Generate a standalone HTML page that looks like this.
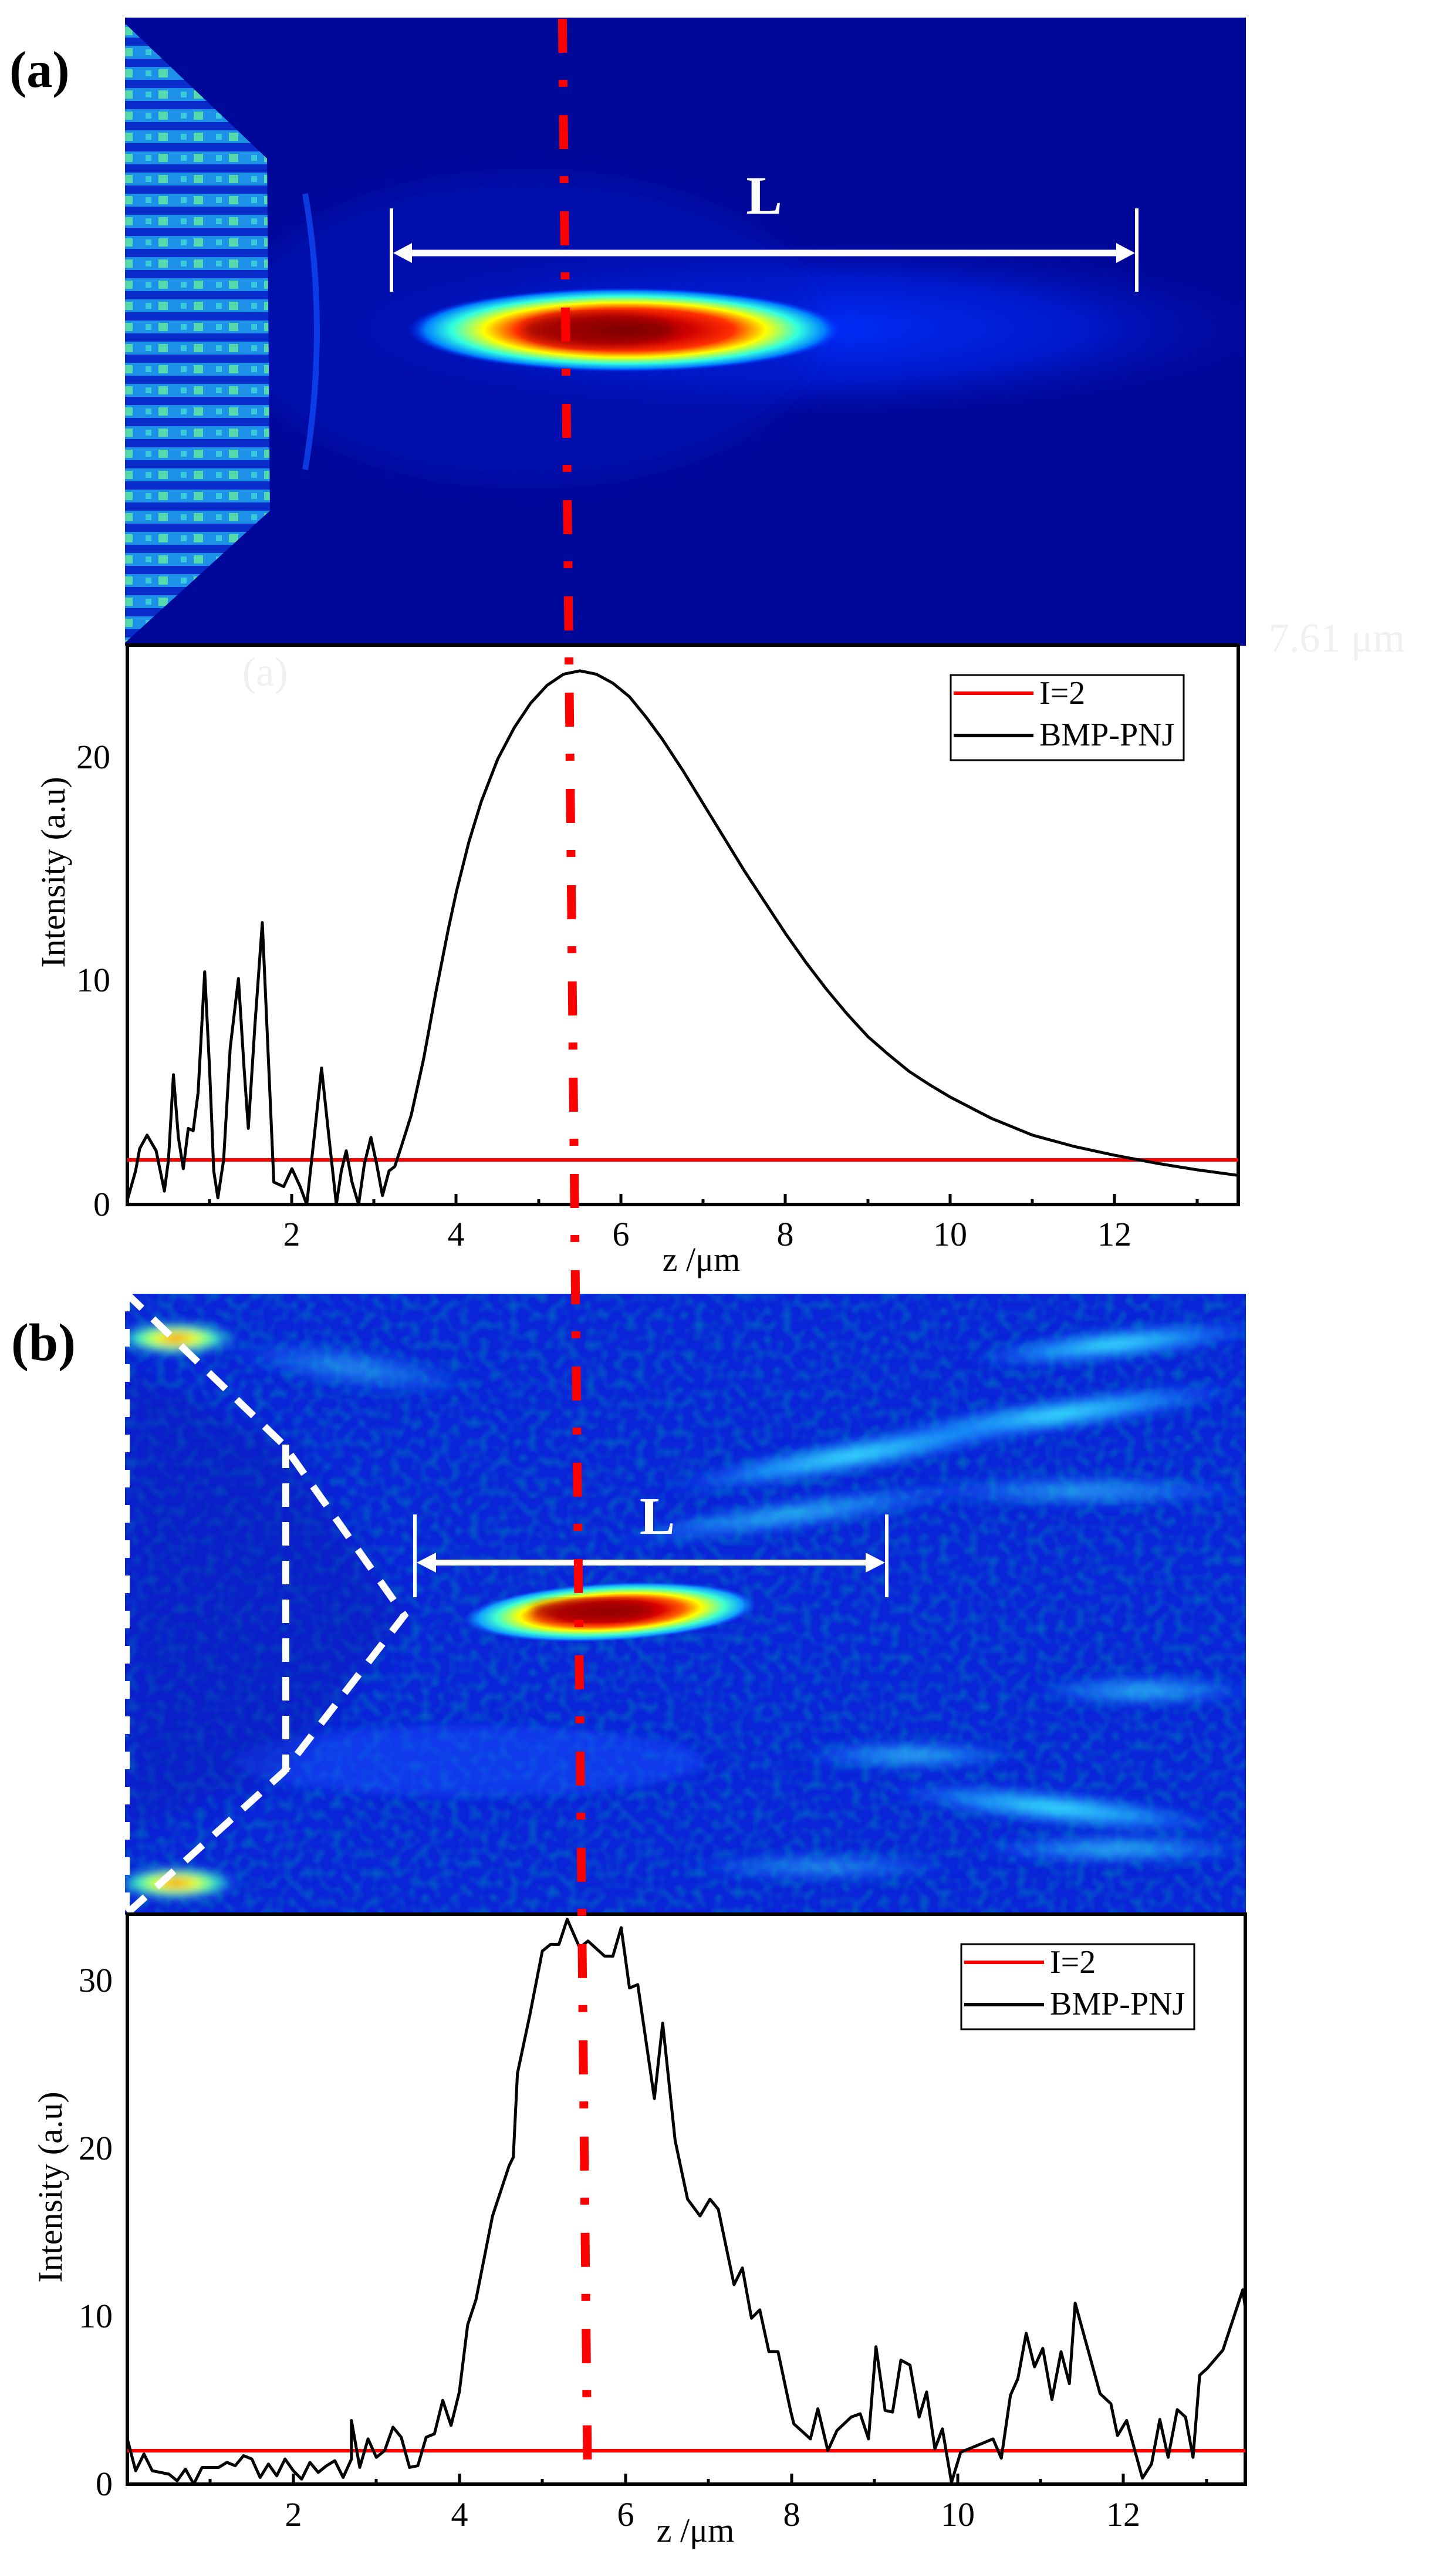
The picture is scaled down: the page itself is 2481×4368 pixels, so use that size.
<!DOCTYPE html>
<html><head><meta charset="utf-8"><style>html,body{margin:0;padding:0;background:#fff}svg{display:block}</style></head>
<body>
<svg xmlns="http://www.w3.org/2000/svg" width="2481" height="4368" viewBox="0 0 2481 4368" font-family="'Liberation Serif', serif">
<defs>
<clipPath id="clipA"><rect x="213" y="30" width="1910" height="1070"/></clipPath>
<clipPath id="clipB"><rect x="213" y="2204" width="1910" height="1058"/></clipPath>
<radialGradient id="hotA">
<stop offset="0" stop-color="#7a0000"/><stop offset="0.3" stop-color="#d00000"/><stop offset="0.5" stop-color="#ff3000"/><stop offset="0.65" stop-color="#ffff00"/><stop offset="0.8" stop-color="#30ffe0"/><stop offset="0.92" stop-color="#0080ff"/><stop offset="1" stop-color="#0020ff" stop-opacity="0"/>
</radialGradient>
<radialGradient id="tail"><stop offset="0" stop-color="#0030ff"/><stop offset="0.6" stop-color="#0020e0" stop-opacity="0.7"/><stop offset="1" stop-color="#0010b0" stop-opacity="0"/></radialGradient>
<radialGradient id="hotB">
<stop offset="0" stop-color="#a00000"/><stop offset="0.35" stop-color="#e00000"/><stop offset="0.5" stop-color="#ff6000"/><stop offset="0.62" stop-color="#ffff00"/><stop offset="0.78" stop-color="#40ffd0"/><stop offset="0.9" stop-color="#10a0ff"/><stop offset="1" stop-color="#1040ff" stop-opacity="0"/>
</radialGradient>
<radialGradient id="streak"><stop offset="0" stop-color="#40f0ff"/><stop offset="0.5" stop-color="#20b0ff" stop-opacity="0.7"/><stop offset="1" stop-color="#1050ff" stop-opacity="0"/></radialGradient>
<radialGradient id="spot"><stop offset="0" stop-color="#ff4000"/><stop offset="0.3" stop-color="#ffff00"/><stop offset="0.6" stop-color="#40ffc0"/><stop offset="1" stop-color="#1060ff" stop-opacity="0"/></radialGradient>
<pattern id="cone" width="60" height="36" patternUnits="userSpaceOnUse">
<rect width="60" height="36" fill="#0a30d0"/>
<rect x="0" y="6" width="60" height="22" fill="#20a0f0"/>
<rect x="30" y="10" width="16" height="14" fill="#60f0b0"/>
<rect x="8" y="12" width="10" height="10" fill="#40e0e0"/>
</pattern>
<filter id="noise" x="0" y="0" width="100%" height="100%">
<feTurbulence type="fractalNoise" baseFrequency="0.06" numOctaves="1" seed="3"/>
<feColorMatrix type="matrix" values="0 0 0 0 0  0 0 0 0 0.15  0 0 0 0 0.55  0 0 0 2.2 -0.9"/>
</filter>
<filter id="blur20"><feGaussianBlur stdDeviation="20"/></filter>
<filter id="blur8"><feGaussianBlur stdDeviation="8"/></filter>
</defs>

<!-- Panel (a) heatmap -->
<g clip-path="url(#clipA)">
<rect x="213" y="30" width="1910" height="1070" fill="#00089a"/>
<ellipse cx="1350" cy="560" rx="820" ry="150" fill="url(#tail)"/>
<ellipse cx="900" cy="560" rx="500" ry="260" fill="#0018c0" opacity="0.5" filter="url(#blur20)"/>
<polygon points="213,40 455,270 460,870 213,1095" fill="url(#cone)" opacity="0.9"/>
<path d="M520,330 Q560,560 520,800" stroke="#1050ff" stroke-width="10" fill="none" opacity="0.7"/>
<ellipse cx="1065" cy="562" rx="370" ry="72" fill="url(#hotA)"/>
<ellipse cx="1020" cy="562" rx="130" ry="28" fill="#800000" opacity="0.6" filter="url(#blur8)"/>
</g>
<!-- arrow a -->
<line x1="667" y1="355" x2="667" y2="497" stroke="#fff" stroke-width="6"/>
<line x1="1937" y1="355" x2="1937" y2="497" stroke="#fff" stroke-width="6"/>
<line x1="690" y1="431" x2="1915" y2="431" stroke="#fff" stroke-width="11"/>
<polygon points="670,431 702,414 702,448" fill="#fff"/>
<polygon points="1934,431 1902,414 1902,448" fill="#fff"/>
<text x="1302" y="364" font-size="92" font-weight="bold" fill="#fff" text-anchor="middle">L</text>
<text x="16" y="148" font-size="88" font-weight="bold" fill="#000">(a)</text>
<text x="2162" y="1110" font-size="70" fill="#f0f0f0">7.61 μm</text>
<text x="413" y="1168" font-size="70" fill="#f0f0f0">(a)</text>

<!-- Plot (a) -->
<rect x="217" y="1099" width="1893" height="953" fill="none" stroke="#000" stroke-width="6"/>
<line x1="217" y1="1976" x2="2110" y2="1976" stroke="#f00" stroke-width="6"/>
<svg x="217" y="1099" width="1893" height="953" viewBox="0 0 13.5 25" preserveAspectRatio="none" overflow="visible">
<polyline vector-effect="non-scaling-stroke" fill="none" stroke="#000" stroke-width="5" stroke-linejoin="round" points="0,24.8 0.1,23.5 0.15,22.5 0.24,21.9 0.35,22.6 0.45,24.4 0.5,23 0.56,19.2 0.62,22 0.68,23.4 0.74,21.6 0.8,21.7 0.86,20 0.94,14.6 1.0,19 1.05,23.5 1.1,24.7 1.17,23 1.25,18 1.35,14.9 1.42,19 1.47,21.6 1.55,17 1.64,12.4 1.72,19 1.78,24 1.9,24.2 2.0,23.4 2.1,24.2 2.18,25 2.27,22 2.36,18.9 2.45,22 2.54,25 2.6,23.5 2.66,22.6 2.73,24 2.81,25 2.88,23.2 2.96,22 3.03,23.2 3.1,24.6 3.18,23.5 3.25,23.3 3.33,22.4 3.45,21 3.6,18.5 3.75,15.5 3.9,12.7 4.0,11 4.15,8.8 4.3,7 4.5,5.1 4.7,3.7 4.9,2.6 5.1,1.8 5.3,1.3 5.5,1.15 5.7,1.3 5.9,1.7 6.1,2.3 6.3,3.2 6.5,4.2 6.75,5.6 7.0,7.1 7.25,8.6 7.5,10.1 7.75,11.5 8.0,12.9 8.25,14.2 8.5,15.4 8.75,16.5 9.0,17.5 9.25,18.3 9.5,19.05 9.75,19.65 10,20.2 10.5,21.15 11,21.9 11.5,22.4 12,22.8 12.5,23.15 13,23.45 13.5,23.7"/>
</svg>
<g stroke="#000" stroke-width="5">
<line x1="497" y1="2052" x2="497" y2="2034"/><line x1="777" y1="2052" x2="777" y2="2034"/><line x1="1058" y1="2052" x2="1058" y2="2034"/><line x1="1338" y1="2052" x2="1338" y2="2034"/><line x1="1619" y1="2052" x2="1619" y2="2034"/><line x1="1899" y1="2052" x2="1899" y2="2034"/>
<line x1="357" y1="2052" x2="357" y2="2043"/><line x1="637" y1="2052" x2="637" y2="2043"/><line x1="918" y1="2052" x2="918" y2="2043"/><line x1="1198" y1="2052" x2="1198" y2="2043"/><line x1="1479" y1="2052" x2="1479" y2="2043"/><line x1="1759" y1="2052" x2="1759" y2="2043"/><line x1="2040" y1="2052" x2="2040" y2="2043"/>
</g>
<g font-size="58" fill="#000" text-anchor="middle">
<text x="497" y="2122">2</text><text x="777" y="2122">4</text><text x="1058" y="2122">6</text><text x="1338" y="2122">8</text><text x="1619" y="2122">10</text><text x="1899" y="2122">12</text>
<text x="1195" y="2165">z /μm</text>
</g>
<g font-size="58" fill="#000" text-anchor="end">
<text x="188" y="1309">20</text><text x="188" y="1689">10</text><text x="188" y="2071">0</text>
</g>
<text transform="translate(110,1486) rotate(-90)" font-size="58" text-anchor="middle">Intensity (a.u)</text>
<rect x="1620" y="1150" width="397" height="145" fill="#fff" stroke="#000" stroke-width="3"/>
<line x1="1625" y1="1181" x2="1761" y2="1181" stroke="#f00" stroke-width="6"/>
<line x1="1625" y1="1253" x2="1761" y2="1253" stroke="#000" stroke-width="6"/>
<text x="1771" y="1199" font-size="56">I=2</text>
<text x="1771" y="1270" font-size="56">BMP-PNJ</text>

<!-- Panel (b) heatmap -->
<g clip-path="url(#clipB)">
<rect x="213" y="2204" width="1910" height="1058" fill="#0a24d8"/>
<rect x="213" y="2204" width="1910" height="1058" filter="url(#noise)" opacity="0.8"/>
<g filter="url(#blur8)">
<ellipse cx="300" cy="2280" rx="110" ry="30" fill="url(#spot)"/>
<ellipse cx="300" cy="3208" rx="110" ry="30" fill="url(#spot)"/>
<ellipse cx="1900" cy="2290" rx="260" ry="30" fill="url(#streak)" transform="rotate(-6 1900 2290)"/>
<ellipse cx="1800" cy="2410" rx="330" ry="32" fill="url(#streak)" transform="rotate(-8 1800 2410)"/>
<ellipse cx="1450" cy="2480" rx="330" ry="32" fill="url(#streak)" transform="rotate(-10 1450 2480)"/>
<ellipse cx="1350" cy="2580" rx="330" ry="30" fill="url(#streak)" transform="rotate(-8 1350 2580)" opacity="0.7"/>
<ellipse cx="1850" cy="2540" rx="300" ry="30" fill="url(#streak)" opacity="0.6"/>
<ellipse cx="1950" cy="2880" rx="200" ry="30" fill="url(#streak)" opacity="0.7"/>
<ellipse cx="1800" cy="3080" rx="300" ry="32" fill="url(#streak)" transform="rotate(6 1800 3080)"/>
<ellipse cx="1550" cy="2990" rx="200" ry="28" fill="url(#streak)" opacity="0.7"/>
<ellipse cx="1900" cy="3150" rx="250" ry="28" fill="url(#streak)" opacity="0.7"/>
<ellipse cx="1400" cy="3180" rx="250" ry="28" fill="url(#streak)" opacity="0.5"/>
<ellipse cx="600" cy="2330" rx="220" ry="40" fill="url(#streak)" opacity="0.5" transform="rotate(8 600 2330)"/>
<ellipse cx="800" cy="3000" rx="400" ry="60" fill="#1850ff" opacity="0.5"/>
</g>
<polygon points="213,2330 483,2461 689,2752 483,3019 213,3120" fill="#0818b0" opacity="0.35" filter="url(#blur20)"/>
<ellipse cx="1040" cy="2746" rx="250" ry="50" fill="url(#hotB)" transform="rotate(-3 1040 2746)"/>
<ellipse cx="1010" cy="2743" rx="105" ry="18" fill="#900000" opacity="0.7" filter="url(#blur8)"/>
</g>
<g stroke="#fff" stroke-width="12" fill="none" stroke-dasharray="40 26">
<polyline points="213,2201 483,2461 689,2752 483,3019 215,3261"/>
<line x1="487" y1="2461" x2="487" y2="3019"/>
</g>
<line x1="217" y1="2204" x2="217" y2="3262" stroke="#fff" stroke-width="8" stroke-dasharray="30 30"/>
<line x1="707" y1="2580" x2="707" y2="2721" stroke="#fff" stroke-width="6"/>
<line x1="1511" y1="2580" x2="1511" y2="2721" stroke="#fff" stroke-width="6"/>
<line x1="730" y1="2662" x2="1490" y2="2662" stroke="#fff" stroke-width="10"/>
<polygon points="710,2662 743,2645 743,2679" fill="#fff"/>
<polygon points="1508,2662 1475,2645 1475,2679" fill="#fff"/>
<text x="1120" y="2613" font-size="90" font-weight="bold" fill="#fff" text-anchor="middle">L</text>
<text x="19" y="2317" font-size="90" font-weight="bold" fill="#000">(b)</text>

<!-- Plot (b) -->
<rect x="217" y="3261" width="1905" height="971" fill="#fff" stroke="#000" stroke-width="6"/>
<line x1="217" y1="4175" x2="2122" y2="4175" stroke="#f00" stroke-width="6"/>
<svg x="217" y="3261" width="1905" height="971" viewBox="0 0 13.47 34" preserveAspectRatio="none" overflow="visible">
<polyline vector-effect="non-scaling-stroke" fill="none" stroke="#000" stroke-width="5" stroke-linejoin="round" points="0,31.3 0.1,33.2 0.2,32.2 0.3,33.2 0.5,33.4 0.6,33.8 0.7,33.1 0.8,34 0.9,33 1.1,33 1.2,32.7 1.3,32.9 1.4,32.3 1.5,32.5 1.6,33.6 1.7,32.8 1.8,33.5 1.9,32.5 2.0,33.2 2.1,33.7 2.2,32.7 2.3,33.3 2.4,32.9 2.5,32.6 2.6,33.6 2.7,32.5 2.7,30.2 2.8,33 2.9,31.3 3.0,32.4 3.1,32 3.2,30.6 3.3,31.2 3.4,33 3.5,32.9 3.6,31.2 3.7,31 3.8,29 3.9,30.5 4.0,28.5 4.1,24.5 4.2,23 4.4,18 4.6,15 4.65,14.5 4.7,9.5 4.85,6 5.0,2.2 5.1,1.8 5.2,1.8 5.3,0.3 5.45,2 5.55,1.6 5.75,2.5 5.85,2.5 5.95,0.8 6.05,4.4 6.15,4.2 6.35,11 6.45,6.5 6.6,13.5 6.75,17 6.9,18 7.02,17 7.12,17.6 7.31,22.1 7.41,21.1 7.52,24.1 7.62,23.6 7.73,26.1 7.84,26.1 7.99,29.6 8.03,30.4 8.23,31.3 8.32,29.5 8.44,32 8.55,30.8 8.72,30 8.83,29.8 8.93,31.3 9.02,25.8 9.13,29.6 9.22,29.7 9.32,26.6 9.43,26.9 9.54,30 9.63,28.5 9.73,31.9 9.82,30.7 9.93,33.9 10.04,32.1 10.43,31.3 10.53,32.45 10.64,28.7 10.73,27.7 10.83,25 10.93,27 11.03,25.9 11.14,28.95 11.25,26.1 11.35,28 11.42,23.2 11.72,28.6 11.85,29.2 11.93,31.1 12.04,30.2 12.23,33.64 12.34,32.8 12.44,30.14 12.54,32.4 12.65,29.55 12.75,30 12.84,32.4 12.92,27.5 13.01,27.1 13.2,26 13.3,24.5 13.44,22.4 13.47,23.5"/>
</svg>
<g stroke="#000" stroke-width="5">
<line x1="500" y1="4232" x2="500" y2="4214"/><line x1="783" y1="4232" x2="783" y2="4214"/><line x1="1066" y1="4232" x2="1066" y2="4214"/><line x1="1349" y1="4232" x2="1349" y2="4214"/><line x1="1632" y1="4232" x2="1632" y2="4214"/><line x1="1914" y1="4232" x2="1914" y2="4214"/>
<line x1="358" y1="4232" x2="358" y2="4223"/><line x1="641" y1="4232" x2="641" y2="4223"/><line x1="924" y1="4232" x2="924" y2="4223"/><line x1="1207" y1="4232" x2="1207" y2="4223"/><line x1="1490" y1="4232" x2="1490" y2="4223"/><line x1="1773" y1="4232" x2="1773" y2="4223"/><line x1="2056" y1="4232" x2="2056" y2="4223"/>
</g>
<g font-size="58" fill="#000" text-anchor="middle">
<text x="500" y="4303">2</text><text x="783" y="4303">4</text><text x="1066" y="4303">6</text><text x="1349" y="4303">8</text><text x="1632" y="4303">10</text><text x="1914" y="4303">12</text>
<text x="1185" y="4330">z /μm</text>
</g>
<g font-size="58" fill="#000" text-anchor="end">
<text x="192" y="3393">30</text><text x="192" y="3679">20</text><text x="192" y="3965">10</text><text x="192" y="4251">0</text>
</g>
<text transform="translate(105,3726) rotate(-90)" font-size="58" text-anchor="middle">Intensity (a.u)</text>
<rect x="1638" y="3312" width="397" height="145" fill="#fff" stroke="#000" stroke-width="3"/>
<line x1="1643" y1="3343" x2="1779" y2="3343" stroke="#f00" stroke-width="6"/>
<line x1="1643" y1="3415" x2="1779" y2="3415" stroke="#000" stroke-width="6"/>
<text x="1789" y="3361" font-size="56">I=2</text>
<text x="1789" y="3432" font-size="56">BMP-PNJ</text>

<!-- red dash-dot line -->
<line x1="958" y1="0" x2="1001" y2="4192" stroke="#f00" stroke-width="15" stroke-dasharray="58 46 12 48" stroke-dashoffset="132"/>
</svg>
</body></html>
